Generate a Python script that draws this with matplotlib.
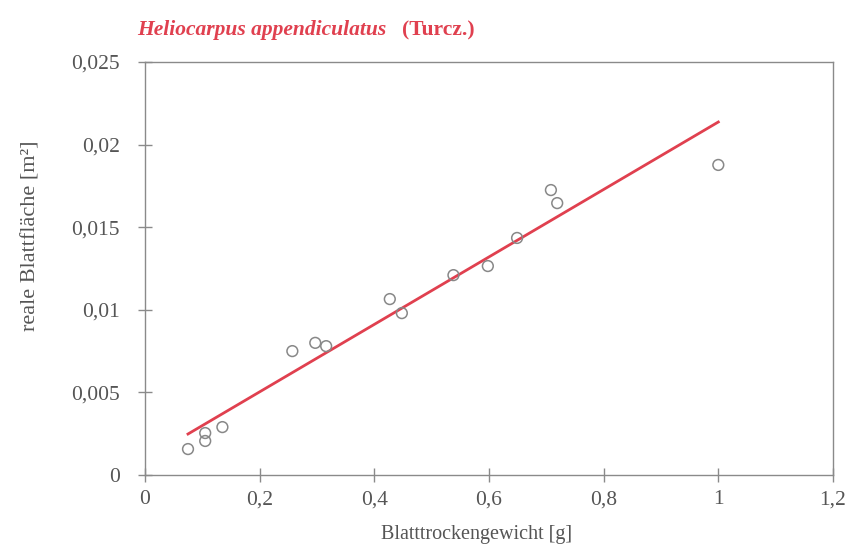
import matplotlib
matplotlib.use("Agg")
import matplotlib.pyplot as plt
import numpy as np

# data
dry_weight = [0.075, 0.105, 0.105, 0.135, 0.257, 0.297, 0.316, 0.427, 0.448,
              0.538, 0.598, 0.649, 0.708, 0.719, 1.0]
leaf_area = [0.00157, 0.00254, 0.00206, 0.0029, 0.0075, 0.0080, 0.0078, 0.01065,
             0.0098, 0.0121, 0.01265, 0.01435, 0.01725, 0.01646, 0.01877]
fit_slope = 0.02042
fit_intercept = 0.00095
fit_range = [0.075, 1.0]
xticks = [0, 0.2, 0.4, 0.6, 0.8, 1.0, 1.2]
xticklabels = ["0", "0,2", "0,4", "0,6", "0,8", "1", "1,2"]
yticks = [0, 0.005, 0.01, 0.015, 0.02, 0.025]
yticklabels = ["0", "0,005", "0,01", "0,015", "0,02", "0,025"]

plt.rcParams['font.family'] = ['Liberation Serif', 'DejaVu Serif']
grey = '#8a8a8a'
txt = '#555555'
red = '#e0404f'

fig = plt.figure(figsize=(8.46, 5.49), dpi=100)
ax = fig.add_axes([0.1714, 0.1348, 0.9846 - 0.1714, 0.887 - 0.1348])

ax.scatter(dry_weight, leaf_area, s=60, facecolors='none', edgecolors='#888888',
           linewidths=1.1, zorder=3)
fx = np.array(fit_range)
ax.plot(fx, fit_slope * fx + fit_intercept, color=red, lw=2, zorder=2)

ax.set_xlim(0, 1.2)
ax.set_ylim(0, 0.025)
ax.set_xticks(xticks)
ax.set_xticklabels(xticklabels)
ax.set_yticks(yticks)
ax.set_yticklabels(yticklabels)
ax.tick_params(direction='inout', length=10, width=1, color=grey,
               labelsize=15.5, labelcolor=txt)
ax.tick_params(axis='x', pad=6)
ax.tick_params(axis='y', pad=13)
for s in ax.spines.values():
    s.set_color(grey)
    s.set_linewidth(1)

ax.set_xlabel("Blatttrockengewicht [g]", fontsize=14.5, color=txt)
ax.xaxis.set_label_coords(0.4826, -0.122)
ax.set_ylabel("reale Blattfläche [m²]", fontsize=16, color=txt)
ax.yaxis.set_label_coords(-0.152, 0.58)

fig.text(0.162, 0.945, "Heliocarpus appendiculatus", fontsize=15.5, color=red,
         style='italic', fontweight='bold', va='center', ha='left')
fig.text(0.475, 0.945, "(Turcz.)", fontsize=15.5, color=red,
         fontweight='bold', va='center', ha='left')

fig.savefig("out.png", dpi=100, facecolor='white')
